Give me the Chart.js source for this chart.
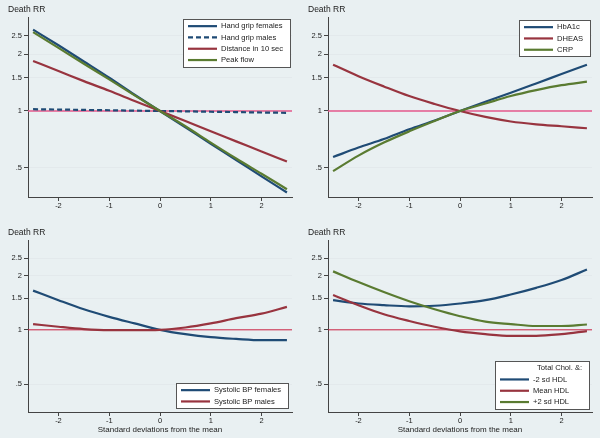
<!DOCTYPE html>
<html>
<head>
<meta charset="utf-8">
<script src="https://cdn.jsdelivr.net/npm/chart.js@4.4.1/dist/chart.umd.min.js"></script>
<style>
  body { margin: 0; background: #e9f0f2; }
  #wrap { position: relative; width: 600px; height: 438px; background: #e9f0f2; }
  canvas { position: absolute; }
</style>
</head>
<body>
<div id="wrap">
  <canvas id="c1" width="300" height="219" style="left:0;top:0"></canvas>
  <canvas id="c2" width="300" height="219" style="left:300px;top:0"></canvas>
  <canvas id="c3" width="300" height="219" style="left:0;top:219px"></canvas>
  <canvas id="c4" width="300" height="219" style="left:300px;top:219px"></canvas>
</div>
<script>
// valores (RR de muerte por desviacion estandar)
const sdPoints = [-2.5, -2, -1.5, -1, -0.5, 0, 0.5, 1, 1.5, 2, 2.5];
const xTicks = [-2, -1, 0, 1, 2];
const yTicks = [0.5, 1, 1.5, 2, 2.5];
const yTickLabels = ['.5', '1', '1.5', '2', '2.5'];

// panel 1
const gripFemales = [2.70, 2.23, 1.83, 1.50, 1.22, 1, 0.82, 0.67, 0.55, 0.45, 0.37];
const gripMales = [1.022, 1.018, 1.013, 1.009, 1.004, 1, 0.996, 0.991, 0.987, 0.982, 0.978];
const distance10s = [1.84, 1.63, 1.44, 1.28, 1.13, 1, 0.885, 0.78, 0.69, 0.61, 0.54];
const peakFlow = [2.62, 2.16, 1.78, 1.47, 1.21, 1, 0.83, 0.68, 0.56, 0.465, 0.385];

// panel 2
const hba1c = [0.57, 0.64, 0.71, 0.80, 0.89, 1, 1.12, 1.25, 1.40, 1.57, 1.76];
const dheas = [1.76, 1.53, 1.35, 1.20, 1.09, 1, 0.93, 0.88, 0.85, 0.83, 0.81];
const crp = [0.48, 0.58, 0.68, 0.78, 0.885, 1, 1.095, 1.20, 1.29, 1.37, 1.43];

// panel 3
const sbpFemales = [1.65, 1.46, 1.30, 1.18, 1.085, 1, 0.946, 0.91, 0.89, 0.876, 0.876];
const sbpMales = [1.076, 1.04, 1.01, 0.996, 0.995, 1, 1.03, 1.085, 1.16, 1.23, 1.34];

// panel 4
const hdlMinus2 = [1.46, 1.40, 1.37, 1.35, 1.36, 1.40, 1.46, 1.57, 1.71, 1.89, 2.16];
const hdlMean = [1.56, 1.37, 1.22, 1.12, 1.04, 0.98, 0.946, 0.926, 0.926, 0.946, 0.983];
const hdlPlus2 = [2.11, 1.84, 1.62, 1.44, 1.30, 1.19, 1.11, 1.076, 1.05, 1.05, 1.07];

const NAVY = '#1f4b75';
const MAROON = '#98343f';
const GREEN = '#5a7b31';
const FONT = "'Liberation Sans', Arial, sans-serif";

Chart.defaults.font.family = FONT;
Chart.defaults.color = '#222';

// titulo "Death RR" y leyenda en caja, al estilo Stata
const stataDecor = {
  id: 'stataDecor',
  afterDraw(chart, args, opts) {
    const ctx = chart.ctx;
    const area = chart.chartArea;
    ctx.save();
    ctx.fillStyle = '#222';
    ctx.textBaseline = 'middle';
    ctx.textAlign = 'left';
    ctx.font = '8.5px ' + FONT;
    ctx.fillText('Death RR', 8, area.top - 7);

    const items = chart.data.datasets.filter(d => d.label);
    ctx.font = '7.6px ' + FONT;
    const rowH = 11.3;
    let textW = Math.max(...items.map(d => ctx.measureText(d.label).width));
    if (opts.keyTitle) textW = Math.max(textW, ctx.measureText(opts.keyTitle).width + 4);
    const rows = items.length + (opts.keyTitle ? 1 : 0);
    const w = Math.round(5 + 29 + 4 + textW + 7);
    const h = Math.round(rows * rowH + 2.5);
    const x = Math.round(area.right - opts.inset - w);
    const y = Math.round(opts.corner === 'top' ? area.top + opts.inset : area.bottom - opts.inset - h);
    ctx.fillStyle = '#fff';
    ctx.fillRect(x, y, w, h);
    ctx.strokeStyle = '#555';
    ctx.lineWidth = 1;
    ctx.strokeRect(x + 0.5, y + 0.5, w, h);

    let ry = y + 1.5 + rowH / 2;
    ctx.fillStyle = '#222';
    if (opts.keyTitle) {
      ctx.fillText(opts.keyTitle, x + 42, ry);
      ry += rowH;
    }
    items.forEach(d => {
      ctx.strokeStyle = d.borderColor;
      ctx.lineWidth = d.borderWidth;
      ctx.setLineDash(d.borderDash || []);
      ctx.beginPath();
      ctx.moveTo(x + 5, ry);
      ctx.lineTo(x + 34, ry);
      ctx.stroke();
      ctx.setLineDash([]);
      ctx.fillText(d.label, x + 38, ry);
      ry += rowH;
    });
    ctx.restore();
  }
};

function series(label, values, color, dash) {
  return {
    label: label,
    data: sdPoints.map((x, i) => ({ x: x, y: values[i] })),
    borderColor: color,
    borderWidth: 2.2,
    borderDash: dash || [],
    pointRadius: 0,
    cubicInterpolationMode: 'monotone',
    fill: false
  };
}

function refLine(color, width) {
  return {
    data: [{ x: -2.6, y: 1 }, { x: 2.6, y: 1 }],
    borderColor: color,
    borderWidth: width,
    pointRadius: 0,
    order: 100
  };
}

function makePanel(id, lines, ref, key, bottomRow) {
  lines.forEach((d, i) => { d.order = -i; }); // Stata dibuja la ultima encima
  new Chart(document.getElementById(id), {
    type: 'line',
    data: { datasets: [ref].concat(lines) },
    options: {
      responsive: false,
      animation: false,
      layout: { padding: { left: 8, right: 8, top: bottomRow ? 21 : 17, bottom: 0 } },
      scales: {
        x: {
          type: 'linear',
          min: -2.6,
          max: 2.6,
          afterBuildTicks: s => { s.ticks = xTicks.map(v => ({ value: v })); },
          afterFit: s => { s.height = bottomRow ? 26 : 22; },
          ticks: { font: { size: 7.5 }, padding: 0, maxRotation: 0, callback: v => String(v) },
          grid: { drawOnChartArea: false, tickLength: 4, tickColor: '#444', tickWidth: 1 },
          border: { display: true, color: '#444', width: 1 },
          title: {
            display: bottomRow,
            text: 'Standard deviations from the mean',
            font: { size: 8 },
            padding: { top: 0, bottom: 3.5 }
          }
        },
        y: {
          type: 'logarithmic',
          min: 0.35,
          max: 3.15,
          afterBuildTicks: s => { s.ticks = yTicks.map(v => ({ value: v })); },
          afterFit: s => { s.width = 20; },
          ticks: { font: { size: 7.5 }, padding: 2, callback: v => yTickLabels[yTicks.indexOf(v)] },
          grid: { color: '#e3e9ec', lineWidth: 1, tickLength: 4, tickColor: '#444' },
          border: { display: true, color: '#444', width: 1 }
        }
      },
      plugins: {
        legend: { display: false },
        tooltip: { enabled: false },
        stataDecor: key
      }
    },
    plugins: [stataDecor]
  });
}

makePanel('c1', [
  series('Hand grip females', gripFemales, NAVY),
  series('Hand grip males', gripMales, NAVY, [5, 3]),
  series('Distance in 10 sec', distance10s, MAROON),
  series('Peak flow', peakFlow, GREEN)
], refLine('#e5598d', 1.5), { corner: 'top', inset: 2 }, false);

makePanel('c2', [
  series('HbA1c', hba1c, NAVY),
  series('DHEAS', dheas, MAROON),
  series('CRP', crp, GREEN)
], refLine('#e5598d', 1.5), { corner: 'top', inset: 2.5 }, false);

makePanel('c3', [
  series('Systolic BP females', sbpFemales, NAVY),
  series('Systolic BP males', sbpMales, MAROON)
], refLine('#cc2244', 1), { corner: 'bottom', inset: 4 }, true);

makePanel('c4', [
  series('-2 sd HDL', hdlMinus2, NAVY),
  series('Mean HDL', hdlMean, MAROON),
  series('+2 sd HDL', hdlPlus2, GREEN)
], refLine('#cc2244', 1), { corner: 'bottom', inset: 3.5, keyTitle: 'Total Chol. &:' }, true);
</script>
</body>
</html>
